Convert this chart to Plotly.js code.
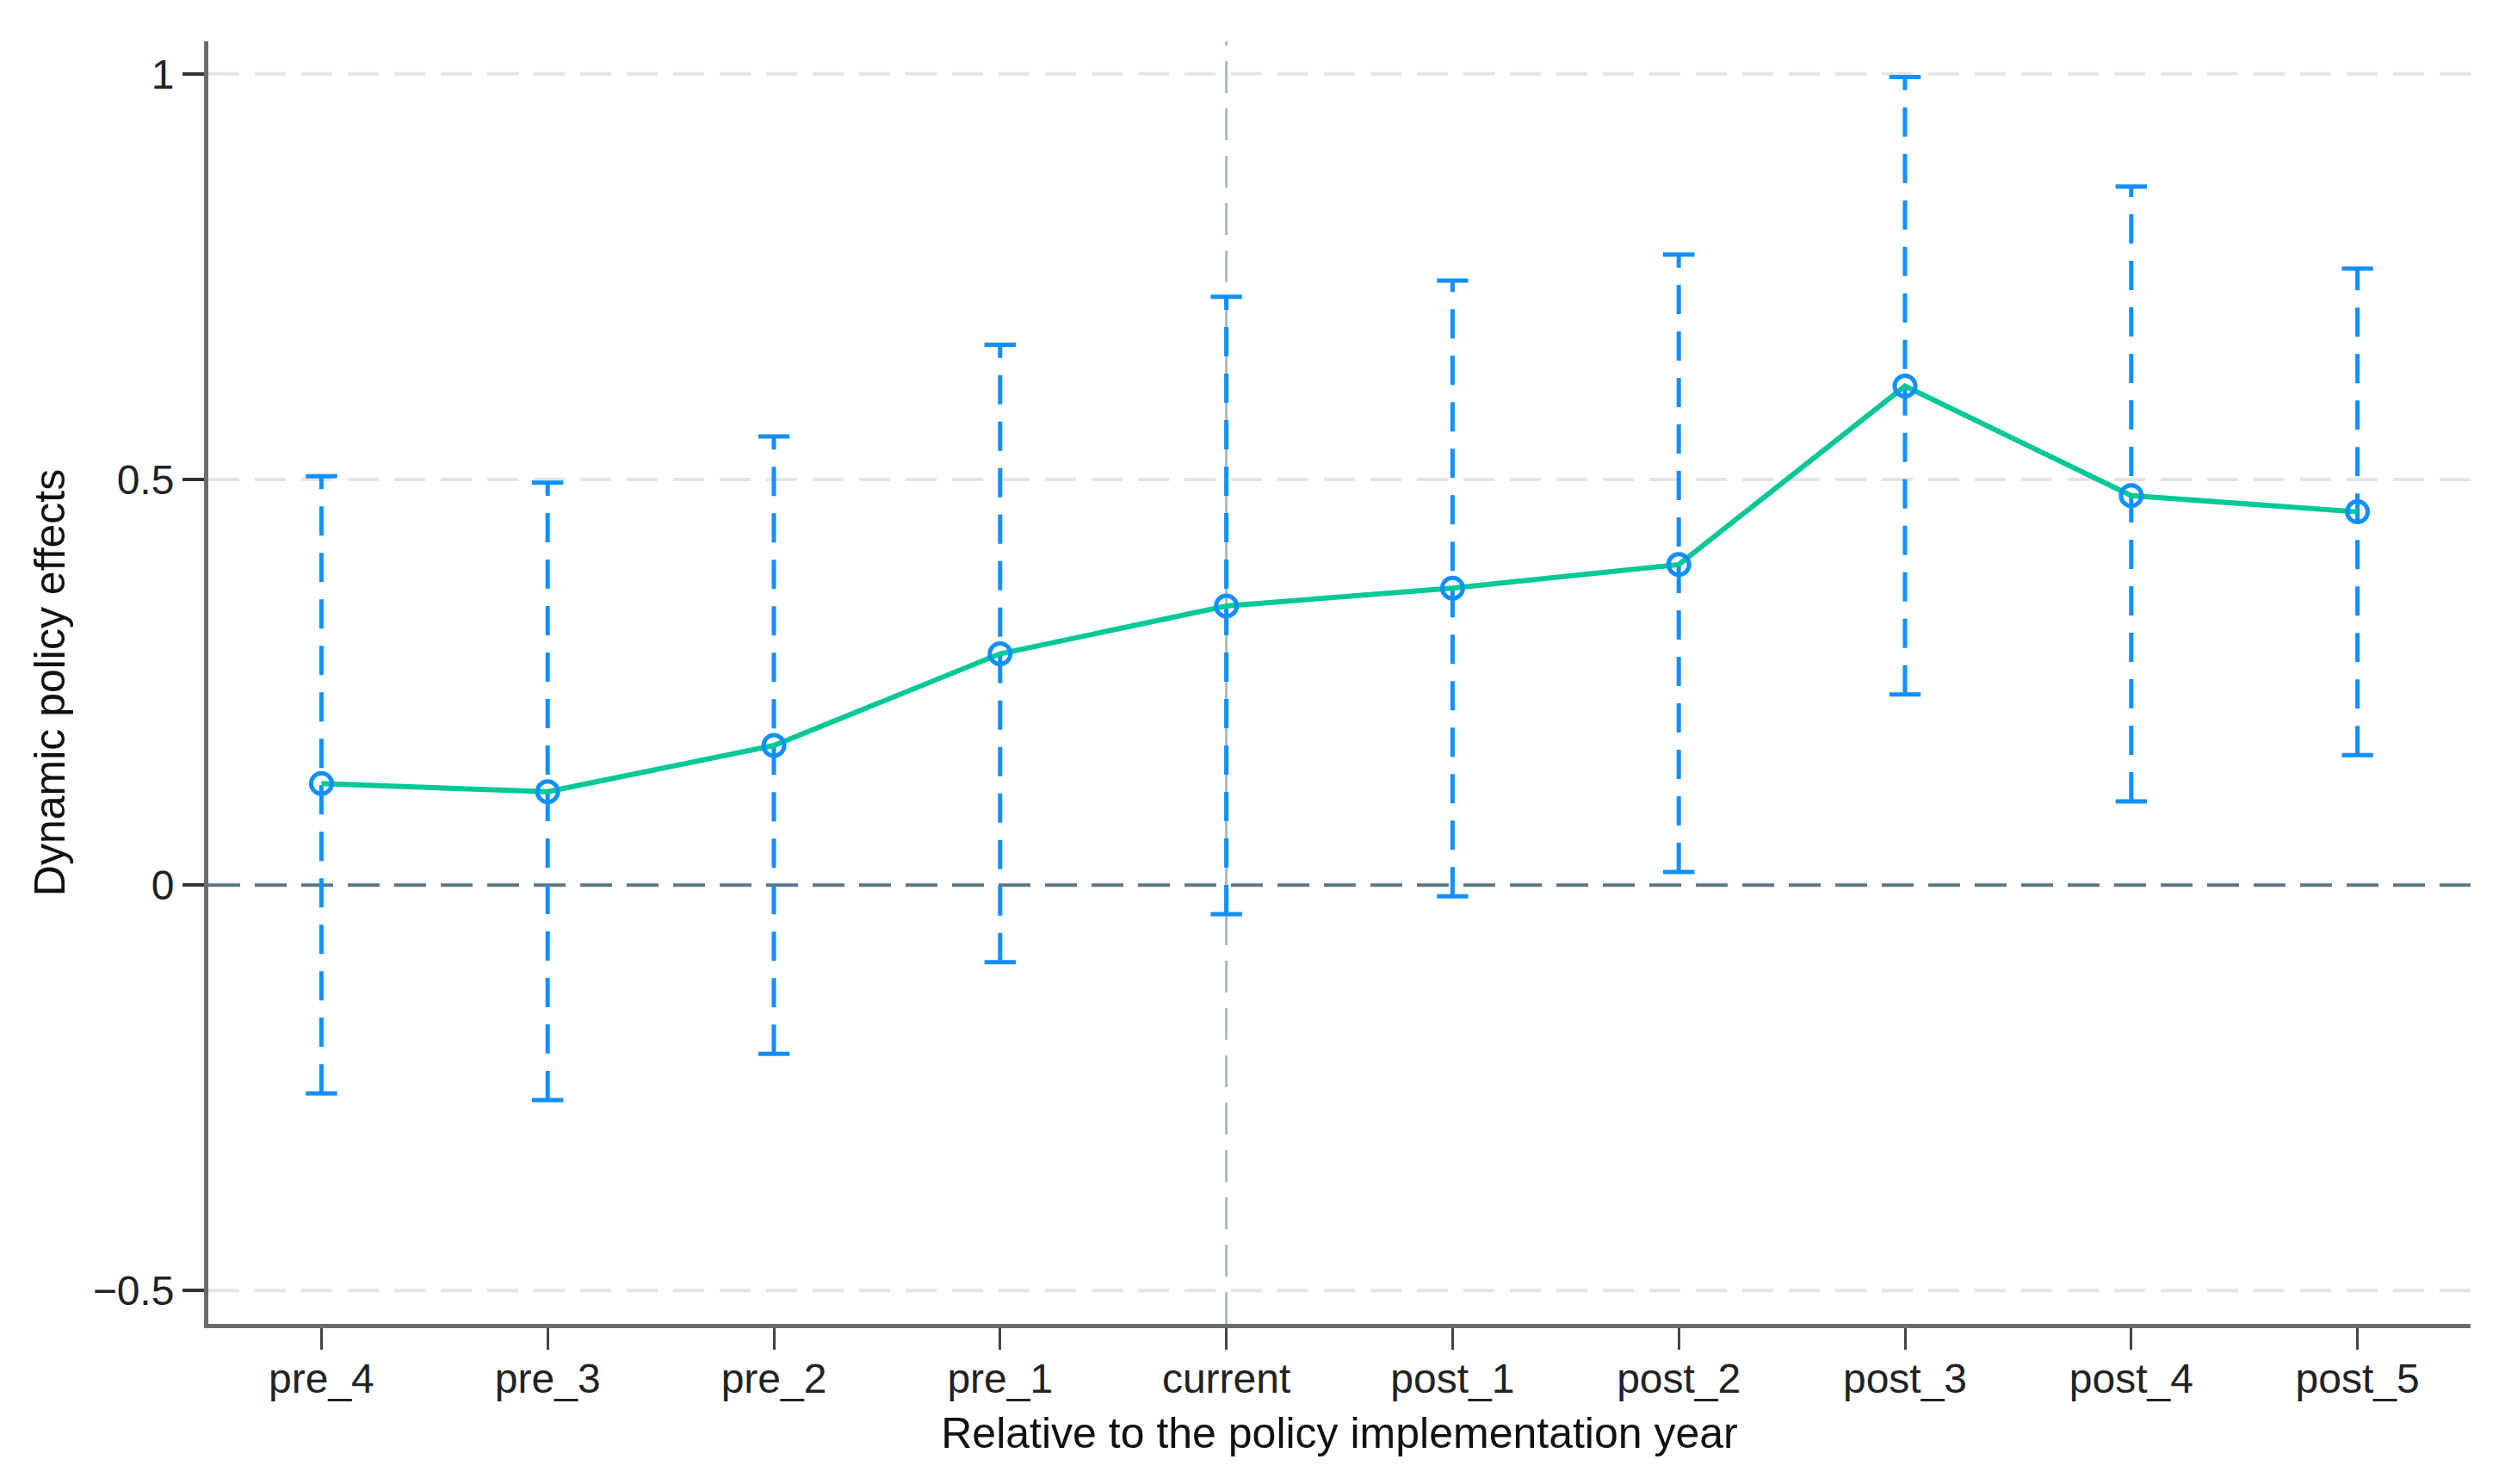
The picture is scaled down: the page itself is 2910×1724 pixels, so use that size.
<!DOCTYPE html>
<html>
<head>
<meta charset="utf-8">
<script src="https://cdn.plot.ly/plotly-3.0.1.min.js"></script>
<style>
  html, body { margin: 0; padding: 0; background: #fff; }
  #plot { width: 2910px; height: 1724px; }
</style>
</head>
<body>
<div id="plot"></div>
<script>
const periods = ['pre_4', 'pre_3', 'pre_2', 'pre_1', 'current', 'post_1', 'post_2', 'post_3', 'post_4', 'post_5'];
const effect = [0.125, 0.115, 0.172, 0.285, 0.344, 0.366, 0.395, 0.615, 0.480, 0.460];
const upper = [0.504, 0.496, 0.553, 0.666, 0.725, 0.745, 0.777, 0.996, 0.861, 0.760];
const lower = [-0.257, -0.265, -0.208, -0.095, -0.036, -0.014, 0.016, 0.235, 0.103, 0.160];
const yTicks = [-0.5, 0, 0.5, 1];
const eventPeriod = 'current';

const BLUE = '#1090ff';
const GREEN = '#00c896';
const FONT = 'Arial, "Liberation Sans", sans-serif';

// vertical CI segments, one dashed path broken by nulls
const ciX = [], ciY = [];
periods.forEach((p, i) => {
  ciX.push(p, p, null);
  ciY.push(lower[i], upper[i], null);
});

const data = [
  {
    type: 'scatter', mode: 'lines', x: ciX, y: ciY,
    line: { color: BLUE, width: 5, dash: '34px,20px' },
    hoverinfo: 'skip', showlegend: false
  },
  {
    type: 'scatter', mode: 'markers',
    x: periods.concat(periods), y: upper.concat(lower),
    marker: { symbol: 'line-ew', size: 26, line: { color: BLUE, width: 5 } },
    hoverinfo: 'skip', showlegend: false
  },
  {
    type: 'scatter', mode: 'lines', x: periods, y: effect,
    line: { color: GREEN, width: 6 },
    showlegend: false
  },
  {
    type: 'scatter', mode: 'markers', x: periods, y: effect,
    marker: { symbol: 'circle', size: 24, color: 'rgba(0,0,0,0)', line: { color: BLUE, width: 5 } },
    showlegend: false
  }
];

// light dashed grid at the non-zero ticks, darker dashed line at zero
const shapes = yTicks.map(v => ({
  type: 'line', xref: 'paper', yref: 'y', x0: 0, x1: 1, y0: v, y1: v, layer: 'below',
  line: v === 0
    ? { color: '#5c7888', width: 4, dash: '37px,17px' }
    : { color: '#e4e4e4', width: 4, dash: '36px,18px' }
}));
shapes.push({
  type: 'line', xref: 'x', yref: 'paper', x0: eventPeriod, x1: eventPeriod, y0: 0, y1: 1,
  line: { color: '#a9bcc0', width: 3, dash: '37px,18px' }, layer: 'below'
});

const layout = {
  width: 2910, height: 1724,
  paper_bgcolor: '#fff', plot_bgcolor: '#fff',
  margin: { l: 242, r: 40, t: 48, b: 186 },
  font: { family: FONT, color: '#222', size: 48 },
  showlegend: false,
  xaxis: {
    type: 'category', categoryorder: 'array', categoryarray: periods,
    range: [-0.5, 9.5],
    showgrid: false, zeroline: false,
    showline: true, linecolor: '#6b6b6b', linewidth: 5,
    ticks: 'outside', ticklen: 25, tickwidth: 3, tickcolor: '#444',
    tickfont: { size: 48, family: FONT, color: '#222' },
    ticklabelstandoff: -8,
    title: { text: 'Relative to the policy implementation year', font: { size: 50, family: FONT, color: '#111' }, standoff: 22 }
  },
  yaxis: {
    range: [-0.541, 1.040],
    tickvals: yTicks,
    showgrid: false, zeroline: false,
    showline: true, linecolor: '#6b6b6b', linewidth: 5,
    ticks: 'outside', ticklen: 25, tickwidth: 4, tickcolor: '#333',
    tickfont: { size: 48, family: FONT, color: '#222' },
    title: { text: 'Dynamic policy effects', font: { size: 50, family: FONT, color: '#111' }, standoff: 18 }
  },
  shapes: shapes
};

Plotly.newPlot('plot', data, layout, { displayModeBar: false, staticPlot: true });
</script>
</body>
</html>
